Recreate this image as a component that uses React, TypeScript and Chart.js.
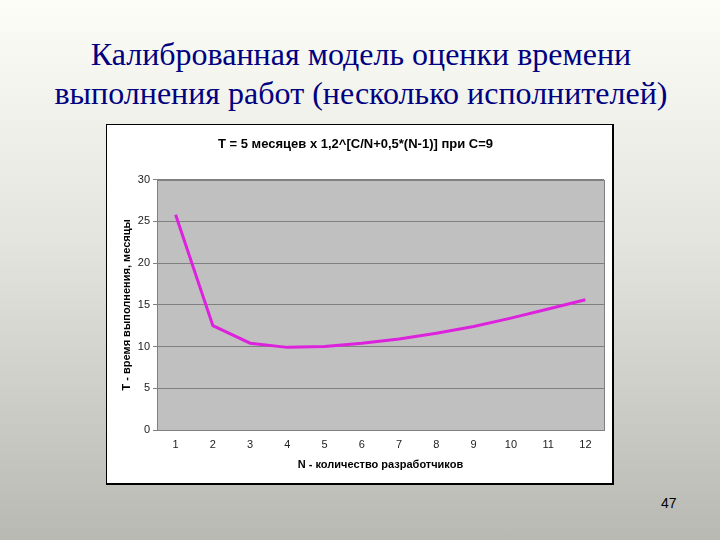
import { useEffect, useRef } from 'react';
import { Chart, registerables, Plugin } from 'chart.js';

Chart.register(...registerables);

const slideTitle = ['Калиброванная модель оценки времени', 'выполнения работ (несколько исполнителей)'];
const chartTitle = 'T = 5 месяцев х 1,2^[C/N+0,5*(N-1)] при C=9';
const xTitle = 'N - количество разработчиков';
const yTitle = 'Т - время выполнения, месяцы';
const pageNumber = '47';

const developers = ['1', '2', '3', '4', '5', '6', '7', '8', '9', '10', '11', '12'];
const months = [25.8, 12.5, 10.4, 9.9, 10.0, 10.4, 10.9, 11.6, 12.4, 13.4, 14.5, 15.6];

const sans = '"Liberation Sans", Arial, sans-serif';

const plotBg: Plugin<'line'> = {
  id: 'plotBg',
  beforeDraw(chart) {
    const { ctx, chartArea: a } = chart;
    ctx.save();
    ctx.fillStyle = '#c0c0c0';
    ctx.fillRect(a.left, a.top, a.right - a.left, a.bottom - a.top);
    ctx.restore();
  },
  beforeDatasetsDraw(chart) {
    const { ctx, chartArea: a } = chart;
    ctx.save();
    ctx.strokeStyle = '#808080';
    ctx.lineWidth = 1;
    ctx.strokeRect(Math.round(a.left) + 0.5, Math.round(a.top) + 0.5, Math.round(a.right - a.left), Math.round(a.bottom - a.top));
    ctx.restore();
  },
};

function TimeChart() {
  const canvasRef = useRef<HTMLCanvasElement>(null);
  const chartRef = useRef<Chart | null>(null);

  useEffect(() => {
    if (!canvasRef.current) return;
    chartRef.current?.destroy();

    chartRef.current = new Chart(canvasRef.current, {
      type: 'line',
      data: {
        labels: developers,
        datasets: [{
          data: months,
          borderColor: '#dd22dd',
          borderWidth: 3,
          pointRadius: 0,
          tension: 0,
          fill: false,
        }],
      },
      options: {
        animation: false,
        responsive: false,
        maintainAspectRatio: false,
        layout: { padding: { left: 0, right: 8, top: 0, bottom: 0 } },
        plugins: {
          legend: { display: false },
          tooltip: { enabled: false },
          title: {
            display: true,
            text: chartTitle,
            color: '#000',
            font: { family: sans, size: 13, weight: 'bold' },
            padding: { top: 12, bottom: 27 },
          },
        },
        scales: {
          x: {
            offset: true,
            grid: { display: false, drawTicks: false },
            border: { display: false },
            ticks: {
              color: '#222',
              padding: 8,
              font: { family: sans, size: 11 },
            },
            title: {
              display: true,
              text: xTitle,
              color: '#000',
              font: { family: sans, size: 11, weight: 'bold' },
              padding: { top: 0, bottom: 11 },
            },
            afterFit: (s: any) => { s.height = 53; },
          },
          y: {
            min: 0,
            max: 30,
            ticks: {
              stepSize: 5,
              color: '#222',
              padding: 3,
              font: { family: sans, size: 11 },
            },
            grid: { color: '#808080', tickLength: 4, drawTicks: true },
            border: { display: false },
            title: {
              display: true,
              text: yTitle,
              color: '#000',
              font: { family: sans, size: 11, weight: 'bold' },
              padding: { top: 13, bottom: 0 },
            },
            afterFit: (s: any) => { s.width = 50; },
          },
        },
      },
      plugins: [plotBg],
    });

    return () => {
      chartRef.current?.destroy();
      chartRef.current = null;
    };
  }, []);

  return <canvas ref={canvasRef} width={505} height={358} style={{ width: 505, height: 358, display: 'block' }} />;
}

export default function App() {
  return (
    <div style={{
      position: 'absolute', left: 0, top: 0, width: 720, height: 540, overflow: 'hidden',
      background: 'linear-gradient(180deg, #fdfdf8 0%, #e4e4de 45%, #b9b9b3 100%)',
    }}>
      <div style={{
        position: 'absolute', left: 0, top: 35, width: 722, textAlign: 'center',
        fontFamily: '"Liberation Serif", "Times New Roman", serif', fontSize: 32, lineHeight: '39px', color: '#000080',
      }}>
        {slideTitle.map((t) => <div key={t}>{t}</div>)}
      </div>
      <div style={{
        position: 'absolute', left: 106, top: 124, width: 505, height: 358, background: '#fff',
        borderTop: '1px solid #000', borderLeft: '1px solid #000', borderRight: '2px solid #000', borderBottom: '2px solid #000',
      }}>
        <TimeChart />
      </div>
      <div style={{
        position: 'absolute', left: 661, top: 495, fontFamily: sans, fontSize: 14, color: '#000',
      }}>{pageNumber}</div>
    </div>
  );
}
